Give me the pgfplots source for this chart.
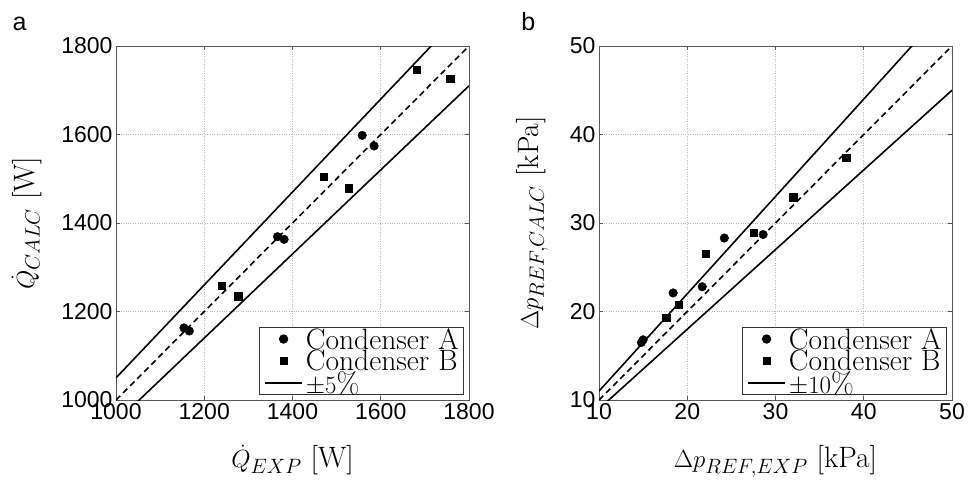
\documentclass[border=0pt]{standalone}
\usepackage{pgfplots}
\pgfplotsset{compat=1.18}
\usepackage{fontspec}
\newfontfamily\arial{Liberation Sans}

\pgfplotsset{
  panel/.style={
    scale only axis, width=353pt, height=354pt, clip mode=individual,
    grid=major, major grid style={dotted, line width=0.6pt, black!28},
    axis line style={black!65, line width=0.7pt},
    tick align=inside, major tick length=4pt,
    every tick/.style={black!65, line width=0.6pt},
    tick label style={font=\arial\fontsize{23}{23}\selectfont},
    /pgf/number format/assume math mode=true,
    /pgf/number format/1000 sep={},
    label style={font=\fontsize{29.5}{29.5}\selectfont},
    xlabel style={at={(axis description cs:0.5,-0.192)}, anchor=base},
    legend cell align=left,
    legend style={at={(axis description cs:0.986,0.014)}, anchor=south east,
      font=\fontsize{29.5}{24}\selectfont, draw=black!80, line width=0.7pt,
      inner xsep=5pt, inner ysep=0.5pt, column sep=3pt,
      nodes={inner sep=0pt, text depth=0.08em}},
  },
  ptA/.style={only marks, mark=*, mark size=4.3pt, black,
    legend image code/.code={\path (0pt,0pt) (37pt,0pt);
      \draw[##1] plot coordinates {(18.5pt,0pt)};}},
  ptB/.style={only marks, mark=square*, mark size=3.7pt, black,
    legend image code/.code={\path (0pt,0pt) (37pt,0pt);
      \draw[##1] plot coordinates {(18.5pt,0pt)};}},
  band/.style={black, line width=1.6pt, no marks,
    legend image code/.code={\draw[##1] (0pt,0pt) -- (37pt,0pt);}},
  ideal/.style={black, line width=1.6pt, no marks, dash pattern=on 6pt off 4pt},
}

\begin{document}
\begin{tikzpicture}
\useasboundingbox (-116pt,-82pt) rectangle (857pt,400pt);

% panel a
\begin{axis}[panel,
  xmin=1000, xmax=1800, ymin=1000, ymax=1800,
  xtick={1000,1200,...,1800}, ytick={1000,1200,...,1800},
  xlabel={$\dot{Q}_{EXP}$ [W]},
  ylabel={$\dot{Q}_{CALC}$ [W]},
  ylabel style={at={(axis description cs:-0.232,0.5)}, anchor=base},
]
\addplot[ptA] coordinates {
  (1154,1163) (1166,1156) (1366,1369) (1381,1363) (1558,1598) (1585,1574)
};
\addlegendentry{Condenser A}
\addplot[ptB] coordinates {
  (1240,1258) (1277,1235) (1471,1505) (1527,1479) (1681,1746) (1757,1726)
};
\addlegendentry{Condenser B}
\addplot[band] coordinates {(1000,1050) (1800,1890)};
\addlegendentry{$\pm5\%$}
\addplot[band, forget plot] coordinates {(1000,950) (1800,1710)};
\addplot[ideal, forget plot] coordinates {(1000,1000) (1800,1800)};
\node[font=\arial\fontsize{25}{25}\selectfont, anchor=base west]
  at (axis description cs:-0.303,1.045) {a};
\end{axis}

% panel b
\begin{axis}[panel, at={(483pt,0pt)},
  xmin=10, xmax=50, ymin=10, ymax=50,
  xtick={10,20,...,50}, ytick={10,20,...,50},
  xlabel={$\Delta p_{REF,EXP}$ [kPa]},
  ylabel={$\Delta p_{REF,CALC}$ [kPa]},
  ylabel style={at={(axis description cs:-0.172,0.5)}, anchor=base},
]
\addplot[ptA] coordinates {
  (14.8,16.5) (15.0,16.8) (18.4,22.1) (21.7,22.8) (24.2,28.3) (28.6,28.7)
};
\addlegendentry{Condenser A}
\addplot[ptB] coordinates {
  (17.6,19.3) (19.0,20.8) (22.1,26.5) (27.5,28.9) (32.0,32.9) (38.0,37.4)
};
\addlegendentry{Condenser B}
\addplot[band] coordinates {(10,11) (50,55)};
\addlegendentry{$\pm10\%$}
\addplot[band, forget plot] coordinates {(10,9) (50,45)};
\addplot[ideal, forget plot] coordinates {(10,10) (50,50)};
\node[font=\arial\fontsize{25}{25}\selectfont, anchor=base west]
  at (axis description cs:-0.23,1.045) {b};
\end{axis}
\end{tikzpicture}
\end{document}
